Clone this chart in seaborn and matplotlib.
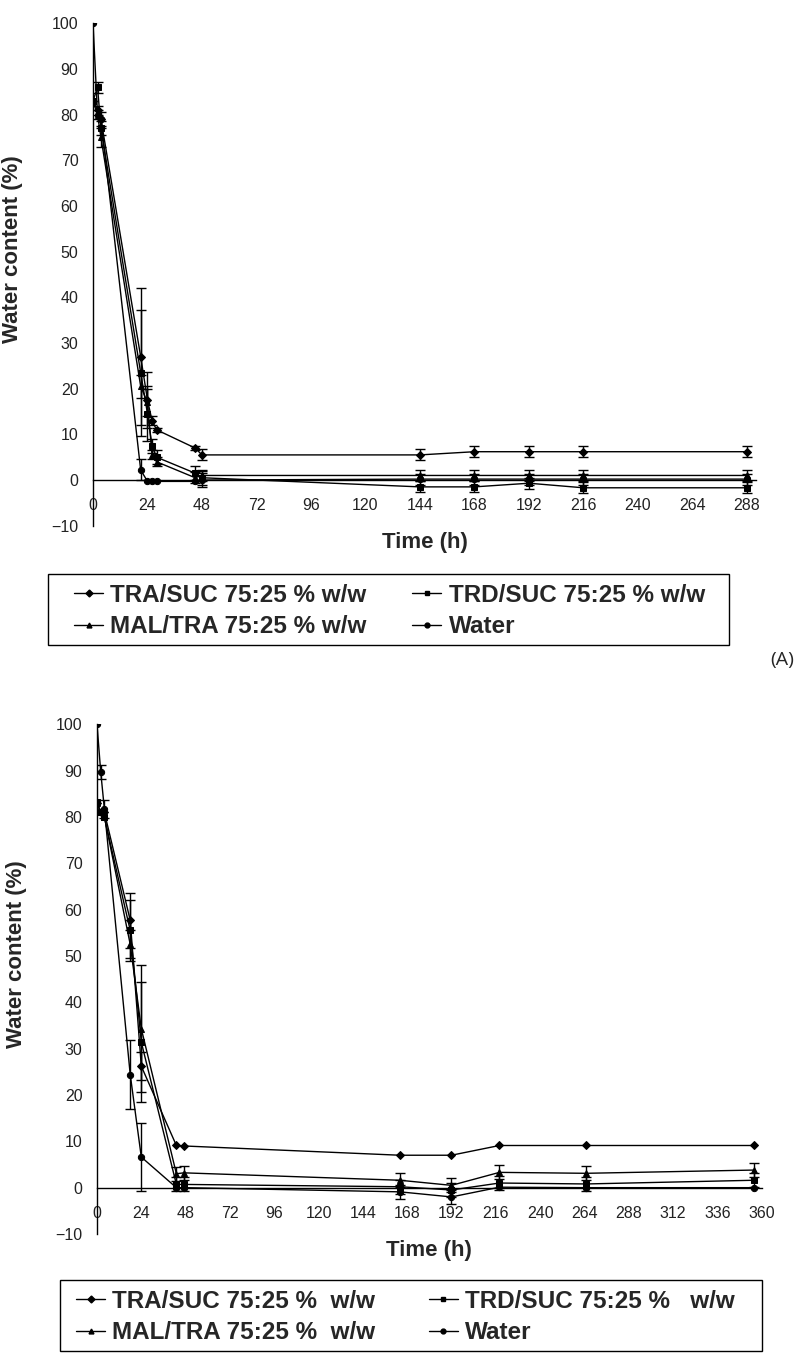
import numpy as np
import pandas as pd
import matplotlib
matplotlib.use('Agg')
import matplotlib.pyplot as plt
from matplotlib.lines import Line2D
from matplotlib.patches import Rectangle
import seaborn as sns

series_order = ['TRA/SUC', 'TRD/SUC', 'MAL/TRA', 'Water']
marker_map = {'TRA/SUC': 'D', 'TRD/SUC': 's', 'MAL/TRA': '^', 'Water': 'o'}

# panel (A)
time_a = [0, 2, 3.5, 21, 24, 26, 28, 45, 48, 144, 168, 192, 216, 288]
tra_a = [83, 81, 79, 27, 17.5, 13, 11, 7, 5.5, 5.5, 6.2, 6.2, 6.2, 6.2]
tra_a_err = [0, 1, 1.5, 15, 6.2, 1, 0.5, 0.5, 1.2, 1.2, 1.2, 1.2, 1.2, 1.2]
trd_a = [83, 86, 77, 23.5, 14.5, 7.5, 5, 1.5, 0.5, -1.5, -1.5, -0.7, -1.7, -1.7]
trd_a_err = [0, 1.2, 1.5, 13.8, 6, 1.5, 1.5, 1.5, 1.5, 1.2, 1.2, 1.2, 1.2, 1.2]
mal_a = [83, 80, 75, 20.5, 17, 5.5, 4, 0.5, 1, 1, 1, 1, 1, 1]
mal_a_err = [0, 1, 2, 2.5, 3, 1, 1, 1.2, 1.2, 1.2, 1.2, 1.2, 1.2, 1.2]
water_a = [100, 80, 79, 2.2, -0.3, -0.3, -0.3, -0.3, 0, 0.2, 0.2, 0.2, 0.2, 0.2]
water_a_err = [0, 0, 0, 2.3, 0, 0, 0, 0, 1.5, 1.2, 1.2, 1.2, 1.2, 1.2]
xticks_a = list(range(0, 289, 24))
labels_a = ['TRA/SUC 75:25 % w/w', 'TRD/SUC 75:25 % w/w',
            'MAL/TRA 75:25 % w/w', 'Water']

# panel (B)
time_b = [0, 2, 4, 18, 24, 43, 47, 164, 192, 218, 265, 356]
tra_b = [83, 81, 81, 57.7, 26.2, 9.1, 9.0, 7.0, 7.0, 9.1, 9.1, 9.1]
tra_b_err = [0, 0, 0, 6, 3, 0, 0, 0, 0, 0, 0, 0]
trd_b = [83.2, 81, 79.9, 55.5, 31.4, 0.7, 0.7, 0.2, -0.5, 1.0, 0.8, 1.6]
trd_b_err = [0, 0, 0, 6.5, 13, 1.5, 1.5, 1.5, 1.5, 1.5, 1.5, 1.5]
mal_b = [83, 81, 80, 52.5, 34.3, 3.0, 3.2, 1.6, 0.5, 3.3, 3.1, 3.8]
mal_b_err = [0, 0, 0, 3, 13.7, 1.5, 1.5, 1.5, 1.5, 1.5, 1.5, 1.5]
water_b = [100, 89.8, 81.7, 24.4, 6.6, 0, 0, -0.9, -2.0, 0.1, 0, 0]
water_b_err = [0, 1.5, 2, 7.5, 7.4, 0, 0, 1.5, 1.5, 0, 0, 0]
xticks_b = list(range(0, 361, 24))
labels_b = ['TRA/SUC 75:25 %  w/w', 'TRD/SUC 75:25 %   w/w',
            'MAL/TRA 75:25 %  w/w', 'Water']

yticks = list(range(-10, 101, 10))

sns.set_style('white')
plt.rcParams['font.family'] = ['Liberation Sans', 'DejaVu Sans']

W, H = 807, 1358
fig = plt.figure(figsize=(W / 100, H / 100), dpi=100)


def draw_panel(ax, time, vals, errs, xticks, xmax, xlab_y):
    df = pd.concat([pd.DataFrame({'time': time, 'value': v, 'series': name})
                    for name, v in zip(series_order, vals)], ignore_index=True)
    sns.lineplot(data=df, x='time', y='value', style='series',
                 style_order=series_order, markers=marker_map, dashes=False,
                 color='black', estimator=None, sort=False, legend=False,
                 linewidth=1.0, markersize=4.5, markeredgecolor='black', ax=ax)
    for v, e in zip(vals, errs):
        t = np.array(time)
        v = np.array(v)
        e = np.array(e)
        m = e > 0
        ax.errorbar(t[m], v[m], yerr=e[m], fmt='none', ecolor='black',
                    elinewidth=1.0, capsize=3.5, capthick=1.0)

    ax.set_xlim(0, xmax)
    ax.set_ylim(-10, 100)
    ax.set_xticks(xticks)
    ax.set_yticks(yticks)
    for s in ['top', 'right']:
        ax.spines[s].set_visible(False)
    ax.spines['bottom'].set_position(('data', 0))
    for s in ['left', 'bottom']:
        ax.spines[s].set_color('black')
        ax.spines[s].set_linewidth(1.0)
    ax.tick_params(axis='both', direction='out', length=4, width=1,
                   color='black', labelsize=11.5, labelcolor='#222222')
    ax.tick_params(axis='x', pad=9)
    ax.tick_params(axis='y', pad=6.5)

    ax.set_xlabel('Time (h)', fontsize=16, fontweight='bold')
    ax.set_ylabel('Water content (%)', fontsize=16, fontweight='bold')
    ax.xaxis.label.set_va('center')
    ax.xaxis.set_label_coords(0.5, xlab_y)
    ax.yaxis.set_label_coords(-0.105, 0.55)


def add_legend(labels, box, text_left, text_right, row1_top):
    # box = (left, top, right, bottom) in pixels from the top-left corner
    x0, y0, x1, y1 = box
    fig.add_artist(Rectangle((x0 / W, 1 - y1 / H), (x1 - x0) / W, (y1 - y0) / H,
                             transform=fig.transFigure, fill=False,
                             edgecolor='black', linewidth=1.0))
    handles = [Line2D([], [], color='black', lw=1.0, marker=marker_map[n],
                      markersize=3.5) for n in series_order]
    order = [0, 2, 1, 3]
    fig.legend([handles[i] for i in order], [labels[i] for i in order],
               loc='upper left',
               bbox_to_anchor=(text_left / W, 1 - (row1_top + 60) / H,
                               (text_right - text_left) / W, 60 / H),
               mode='expand', ncol=2, frameon=False,
               prop={'weight': 'bold', 'size': 17.5},
               handlelength=1.2, handletextpad=0.3, borderpad=0,
               labelspacing=0.33, borderaxespad=0)


ax_a = fig.add_axes([93 / W, 1 - 525.7 / H, 663 / W, 502.4 / H])
draw_panel(ax_a, time_a, [tra_a, trd_a, mal_a, water_a],
           [tra_a_err, trd_a_err, mal_a_err, water_a_err], xticks_a, 292, -0.034)
add_legend(labels_a, (48, 574, 729, 645), 74, 705, 584)
fig.text(782 / W, 1 - 660 / H, '(A)', ha='center', va='center', fontsize=14,
         family=['Open Sans', 'DejaVu Sans'])

ax_b = fig.add_axes([97 / W, 1 - 1234 / H, 664.6 / W, 509.7 / H])
draw_panel(ax_b, time_b, [tra_b, trd_b, mal_b, water_b],
           [tra_b_err, trd_b_err, mal_b_err, water_b_err], xticks_b, 360, -0.033)
add_legend(labels_b, (60, 1280, 762, 1351), 76, 735, 1290)

fig.savefig('out.png', dpi=100, facecolor='white')
